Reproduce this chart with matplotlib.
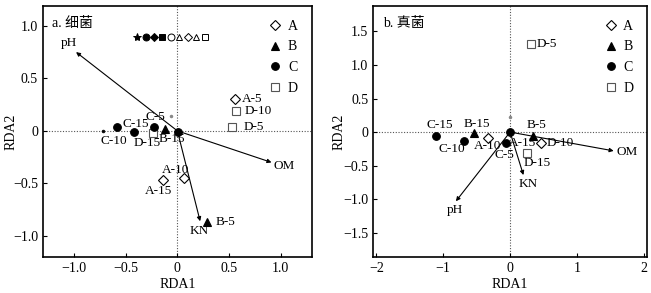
import matplotlib.pyplot as plt
from matplotlib.lines import Line2D

plt.rcParams['font.family'] = ['Liberation Serif', 'Noto Sans CJK SC']
plt.rcParams['font.size'] = 9.5
plt.rcParams['axes.unicode_minus'] = True

# a. bacteria: sample scores
bac_names = ['A-5', 'D-10', 'D-5', 'C-15', 'C-10', '', 'D-15', 'C-5', 'B-15', '', 'A-10', 'A-15', 'B-5']
bac_group = ['A', 'D', 'D', 'C', 'c', 'C', 'D', 'C', 'B', 'C', 'A', 'A', 'B']
bac_x = [0.56, 0.57, 0.53, -0.58, -0.72, -0.42, -0.24, -0.23, -0.12, 0.01, 0.06, -0.14, 0.29]
bac_y = [0.30, 0.19, 0.04, 0.04, 0.00, -0.01, -0.02, 0.04, 0.02, -0.01, -0.45, -0.47, -0.87]

# a. bacteria: environmental vectors
bac_env = ['pH', 'OM', 'KN']
bac_env_x = [-0.98, 0.91, 0.22]
bac_env_y = [0.75, -0.30, -0.86]

# row of symbols on top of panel a
row_marks = ['*', 'o', 'D', 's', 'o', '^', 'D', '^', 's']
row_fill = [True, True, True, True, False, False, False, False, False]
row_x = [-0.39, -0.30, -0.23, -0.15, -0.06, 0.02, 0.10, 0.18, 0.27]
row_y = 0.89

# b. fungi: sample scores
fun_names = ['D-5', 'C-15', 'B-15', 'A-10', 'C-10', 'A-15', 'C-5', 'B-5', 'D-10', 'D-15']
fun_group = ['D', 'C', 'B', 'A', 'C', 'C', 'C', 'B', 'A', 'D']
fun_x = [0.31, -1.11, -0.54, -0.33, -0.69, 0.0, -0.06, 0.34, 0.46, 0.26]
fun_y = [1.31, -0.06, -0.02, -0.09, -0.13, 0.0, -0.16, -0.06, -0.16, -0.31]

fun_env = ['OM', 'KN', 'pH']
fun_env_x = [1.55, 0.20, -0.81]
fun_env_y = [-0.28, -0.64, -1.03]

# label offsets in points (dx, dy, ha)
bac_off = [(5, 0, 'left'), (6, 0, 'left'), (8, 0, 'left'), (4, 2, 'left'), (8, -7, 'center'),
           None, (-4, -7, 'center'), (1, 7, 'center'), (5, -7, 'center'), None,
           (-6, 6, 'center'), (-3, -8, 'center'), (6, 0, 'left')]
bac_env_lab = [(-1.05, 0.84), (1.03, -0.33), (0.21, -0.95)]
fun_off = [(4, 0, 'left'), (3, 8, 'center'), (2, 7, 'center'), (0, -6, 'center'), (-9, -6, 'center'),
           (9, -8, 'center'), (-1, -9, 'center'), (3, 8, 'center'), (4, 0, 'left'), (7, -7, 'center')]
fun_env_lab = [(1.75, -0.30), (0.27, -0.78), (-0.82, -1.16)]

styles = {
    'A': dict(marker='D', ms=5, mfc='white', mec='black', mew=0.8),
    'B': dict(marker='^', ms=5.5, mfc='black', mec='black', mew=0.8),
    'C': dict(marker='o', ms=5.5, mfc='black', mec='black', mew=0.8),
    'c': dict(marker='o', ms=2, mfc='black', mec='black', mew=0.5),
    'D': dict(marker='s', ms=5.5, mfc='white', mec='#555555', mew=0.8),
}


def setup(ax, xlim, ylim, xticks, yticks, xfmt, title, ylab_x):
    ax.set_xlim(*xlim)
    ax.set_ylim(*ylim)
    ax.set_xticks(xticks)
    ax.set_yticks(yticks)
    ax.set_xticklabels([xfmt(v) for v in xticks])
    ax.set_yticklabels(['0' if v == 0 else f'{v:.1f}'.replace('-', '\u2212') for v in yticks])
    ax.tick_params(direction='in', length=3, width=0.8, top=False, right=False, labelsize=10)
    for s in ax.spines.values():
        s.set_linewidth(1.2)
    ax.axhline(0, color='#555555', lw=0.8, ls=(0, (1, 1.5)), zorder=0)
    ax.axvline(0, color='#555555', lw=0.8, ls=(0, (1, 1.5)), zorder=0)
    ax.set_xlabel('RDA1', labelpad=2, fontsize=10)
    ax.set_ylabel('RDA2', fontsize=10)
    ax.yaxis.set_label_coords(ylab_x, 0.5)
    ax.text(0.035, 0.955, title, transform=ax.transAxes, ha='left', va='top', fontsize=10)
    handles = [Line2D([], [], ls='none', **styles[g]) for g in 'ABCD']
    ax.legend(handles, list('ABCD'), loc='upper right', frameon=False, handlelength=1,
              handletextpad=0.4, labelspacing=0.55, borderaxespad=0.6, fontsize=10)


def draw(ax, names, groups, xs, ys, offs, env, ex, ey, elab):
    for n, g, x, y, o in zip(names, groups, xs, ys, offs):
        ax.plot(x, y, ls='none', zorder=3, **styles[g])
        if o is not None and n:
            ax.annotate(n, (x, y), xytext=(o[0], o[1]), textcoords='offset points',
                        ha=o[2], va='center', fontsize=9.5)
    for n, x, y, (lx, ly) in zip(env, ex, ey, elab):
        ax.annotate('', xy=(x, y), xytext=(0, 0),
                    arrowprops=dict(arrowstyle='-|>', lw=0.8, color='black',
                                    mutation_scale=6, shrinkA=0, shrinkB=0))
        ax.text(lx, ly, n, ha='center', va='center', fontsize=9.5)


fig = plt.figure(figsize=(6.51, 2.93), dpi=100)
ax1 = fig.add_axes([0.066, 0.123, 0.413, 0.857])
ax2 = fig.add_axes([0.573, 0.123, 0.421, 0.857])

fmt1 = lambda v: '0' if v == 0 else f'{v:.1f}'.replace('-', '\u2212')
fmt2 = lambda v: f'{v:d}'.replace('-', '\u2212')

setup(ax1, (-1.3, 1.3), (-1.2, 1.19), [-1.0, -0.5, 0, 0.5, 1.0], [-1.0, -0.5, 0, 0.5, 1.0],
      fmt1, 'a. 细菌', -0.093)
setup(ax2, (-2.05, 2.05), (-1.86, 1.88), [-2, -1, 0, 1, 2], [-1.5, -1.0, -0.5, 0, 0.5, 1.0, 1.5],
      fmt2, 'b. 真菌', -0.10)

draw(ax1, bac_names, bac_group, bac_x, bac_y, bac_off, bac_env, bac_env_x, bac_env_y, bac_env_lab)
ax1.plot(-0.06, 0.14, marker='o', ms=1.5, color='#888888', ls='none')
for m, f, x in zip(row_marks, row_fill, row_x):
    size = {'*': 6, 'D': 4}.get(m, 5)
    ax1.plot(x, row_y, marker=m, ms=size, ls='none',
             mfc='black' if f else 'white', mec='black', mew=0.7)

draw(ax2, fun_names, fun_group, fun_x, fun_y, fun_off, fun_env, fun_env_x, fun_env_y, fun_env_lab)
ax2.plot(0.0, 0.22, marker='o', ms=1.5, color='#888888', ls='none')

fig.savefig('out.png', dpi=100)
